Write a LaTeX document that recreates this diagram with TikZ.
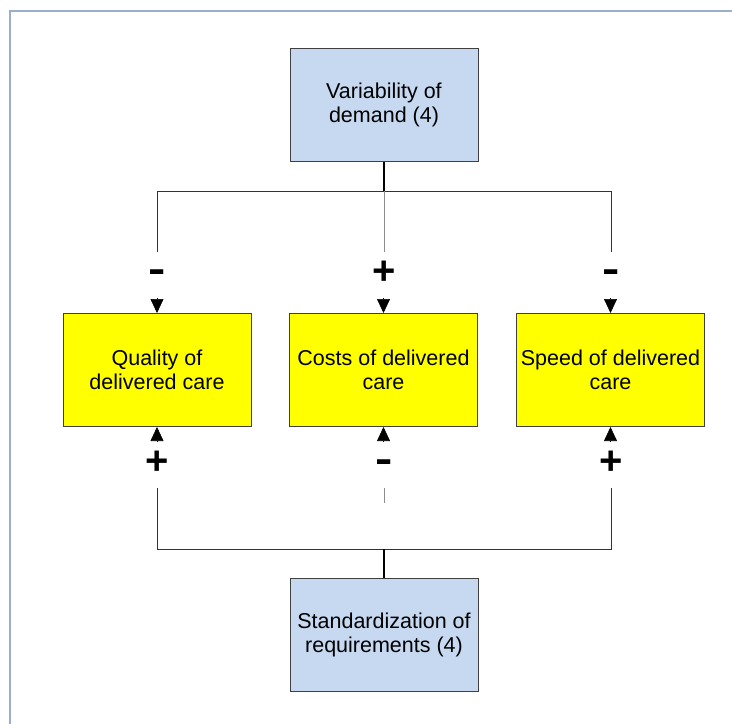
\documentclass[tikz,border=0pt]{standalone}
\usepackage{fontspec}
\setmainfont{Liberation Sans}
\usetikzlibrary{arrows.meta}
\definecolor{boxblue}{HTML}{C6D9F1}
\definecolor{boxyellow}{HTML}{FFFF00}
\definecolor{frameblue}{HTML}{9BAFCB}
\definecolor{edgegray}{HTML}{404040}
\begin{document}
\begin{tikzpicture}[x=1pt,y=-1pt,
  box/.style={draw=edgegray, line width=1pt, minimum width=188pt, minimum height=113pt,
    inner sep=0pt, align=center, font=\fontsize{21.5}{24.5}\selectfont},
  driver/.style={box, fill=boxblue},
  outcome/.style={box, fill=boxyellow},
  wire/.style={line width=1pt, draw=black!80},
  faint/.style={line width=1pt, draw=black!45},
  stub/.style={line width=1.8pt, draw=black},
  sign/.style={font=\fontsize{40}{40}\selectfont\bfseries, inner sep=0pt},
  minus/.style={sign, xscale=1.3},
  tip/.style={-{Triangle[length=14pt,width=13pt]}, line width=0.6pt}
]
\useasboundingbox (0,0) rectangle (732,724);
% page frame
\draw[frameblue, line width=1.5pt] (10,724) -- (10,11) -- (732,11);

% boxes
\node[driver]  (v) at (384,105)   {Variability of\\demand (4)};
\node[outcome] (q) at (157,370)   {Quality of\\delivered care};
\node[outcome] (c) at (383.5,370) {Costs of delivered\\care};
\node[outcome] (s) at (610.5,370) {Speed of delivered\\care};
\node[driver]  (r) at (384,635)   {Standardization of\\requirements (4)};

% upper bus
\coordinate (vbus) at (384,191);
\coordinate (qbus) at (157,191);
\coordinate (sbus) at (611,191);
\coordinate (qtop) at (157,252);
\coordinate (ctop) at (384,252);
\coordinate (stop) at (611,252);
\draw[stub] (v.south) -- (vbus);
\draw[wire] (qtop) -- (qbus) -- (sbus) -- (stop);
\draw[faint] (vbus) -- (ctop);

\node[minus] (qs1) at (157,276) {-};
\node[sign]  (cs1) at (384,273) {+};
\node[minus] (ss1) at (611,276) {-};

\draw[tip] (q.north) ++(0,-15) -- (q.north);
\draw[tip] (c.north) ++(0,-15) -- (c.north);
\draw[tip] (s.north) ++(0,-15) -- (s.north);

% lower bus
\draw[tip] (q.south) ++(0,15) -- (q.south);
\draw[tip] (c.south) ++(0,15) -- (c.south);
\draw[tip] (s.south) ++(0,15) -- (s.south);

\node[sign]  (qs2) at (157,463) {+};
\node[minus] (cs2) at (384,466) {-};
\node[sign]  (ss2) at (611,463) {+};

\coordinate (rbus) at (384,549);
\coordinate (qbase) at (157,549);
\coordinate (sbase) at (611,549);
\coordinate (qlow) at (157,488);
\coordinate (slow) at (611,488);
\coordinate (clow) at (384,488);
\coordinate (cend) at (384,503);
\draw[wire] (qlow) -- (qbase) -- (sbase) -- (slow);
\draw[stub] (rbus) -- (r.north);
\draw[faint] (clow) -- (cend);
\end{tikzpicture}
\end{document}
